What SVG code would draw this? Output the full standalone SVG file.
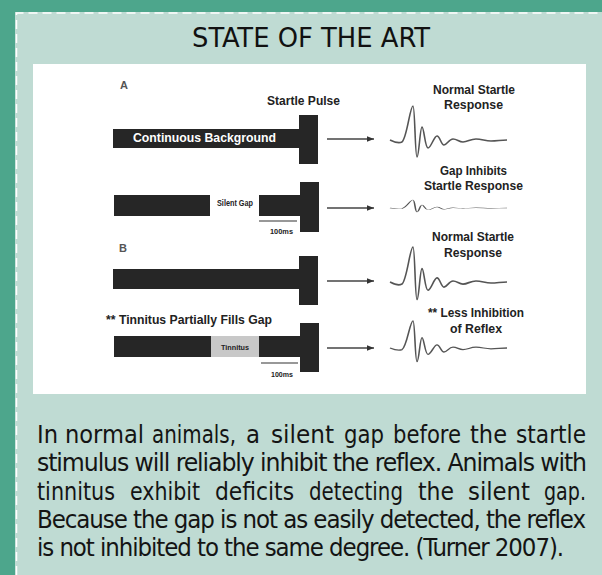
<svg xmlns="http://www.w3.org/2000/svg" width="602" height="575" viewBox="0 0 602 575">
<style>
.bar{fill:#262626}
.lbl{font-family:"Liberation Sans",Arial,sans-serif;font-weight:bold;fill:#222}
.body{font-family:"DejaVu Sans Condensed","DejaVu Sans",sans-serif;font-stretch:condensed;font-size:24px;fill:#141414}
.tight{letter-spacing:-1px}
.wave{fill:none;stroke:#555;stroke-width:1.6;vector-effect:non-scaling-stroke;stroke-linejoin:round}
.arr{stroke:#444;stroke-width:1.3;fill:none}
.scale{stroke:#333;stroke-width:1.2}
</style>
<defs>
<marker id="ah" viewBox="0 0 10 10" refX="10" refY="5" markerWidth="7" markerHeight="7" markerUnits="userSpaceOnUse" orient="auto">
<path d="M0,1 L10,5 L0,9 Z" fill="#333"/>
</marker>
<path id="wv" d="M0,0 C4,2 8,4 12,2 C17,-2 20,-34 23,-34 C25,-34 25,17 27,17 C29,17 30,-13 32,-13 C34,-13 35,8 38,8 C41,8 44,-4 47,-4 C50,-4 51,5 54,5 C57,5 59,-1 63,-1 C67,-1 69,2 73,2 C78,2 80,-1 86,-1 C92,-1 95,1 101,1 C107,1 111,0 117,0"/>
</defs>
<rect x="0" y="0" width="602" height="575" fill="#4da68c"/>
<rect x="15" y="12" width="587" height="563" fill="#bfdbd3"/>
<path d="M16.5,575 L16.5,13 L602,13" fill="none" stroke="#ffffff" stroke-width="1.5" stroke-dasharray="9,5"/>
<text x="311" y="47" text-anchor="middle" font-family="DejaVu Sans Condensed,DejaVu Sans,sans-serif" font-stretch="condensed" font-size="26" fill="#111" textLength="238" lengthAdjust="spacingAndGlyphs">STATE OF THE ART</text>
<rect x="33" y="64" width="553" height="330" fill="#ffffff"/>

<g id="label-A"><text class="lbl" x="120" y="89" font-size="11" style="fill:#555">A</text></g>
<g id="label-B"><text class="lbl" x="119" y="252" font-size="11" style="fill:#555">B</text></g>

<g id="row1-stimulus">
<rect class="bar" x="113" y="129" width="188" height="19"/>
<rect class="bar" x="299" y="115" width="19" height="49"/>
<text class="lbl" x="133" y="142" font-size="13" style="fill:#fff" textLength="143" lengthAdjust="spacingAndGlyphs">Continuous Background</text>
<text class="lbl" x="267" y="105" font-size="13" textLength="73" lengthAdjust="spacingAndGlyphs">Startle Pulse</text>
</g>
<g id="row1-response">
<text class="lbl" x="433" y="94" font-size="13" textLength="82" lengthAdjust="spacingAndGlyphs">Normal Startle</text>
<text class="lbl" x="444" y="109" font-size="13" textLength="59" lengthAdjust="spacingAndGlyphs">Response</text>
<use href="#wv" class="wave" transform="translate(390,140)"/>
</g>

<g id="row2-stimulus">
<rect class="bar" x="114" y="195" width="96" height="21"/>
<text class="lbl" x="217" y="206" font-size="8.5" textLength="36" lengthAdjust="spacingAndGlyphs">Silent Gap</text>
<rect class="bar" x="259" y="195" width="42" height="21"/>
<rect class="bar" x="300" y="182" width="19" height="50"/>
<line class="scale" x1="259" y1="221" x2="297" y2="221"/>
<text class="lbl" x="270" y="234" font-size="7.5" textLength="23" lengthAdjust="spacingAndGlyphs">100ms</text>
</g>
<g id="row2-response">
<text class="lbl" x="440" y="175" font-size="13" textLength="67" lengthAdjust="spacingAndGlyphs">Gap Inhibits</text>
<text class="lbl" x="424" y="190" font-size="13" textLength="99" lengthAdjust="spacingAndGlyphs">Startle Response</text>
<use href="#wv" class="wave" transform="translate(390,208) scale(1,0.24)"/>
</g>

<g id="row3-stimulus">
<rect class="bar" x="113" y="269" width="188" height="20"/>
<rect class="bar" x="299" y="256" width="19" height="49"/>
</g>
<g id="row3-response">
<text class="lbl" x="432" y="241" font-size="13" textLength="82" lengthAdjust="spacingAndGlyphs">Normal Startle</text>
<text class="lbl" x="444" y="257" font-size="13" textLength="58" lengthAdjust="spacingAndGlyphs">Response</text>
<use href="#wv" class="wave" transform="translate(390,282) scale(1,1.03)"/>
</g>

<g id="row4-stimulus">
<text class="lbl" x="106" y="324" font-size="13" textLength="166" lengthAdjust="spacingAndGlyphs">** Tinnitus Partially Fills Gap</text>
<rect class="bar" x="114" y="336" width="97" height="21"/>
<rect x="211" y="336" width="48" height="21" fill="#c8c8c8"/>
<text class="lbl" x="221" y="350" font-size="8" textLength="28" lengthAdjust="spacingAndGlyphs">Tinnitus</text>
<rect class="bar" x="259" y="336" width="42" height="21"/>
<rect class="bar" x="300" y="323" width="19" height="49"/>
<line class="scale" x1="261" y1="363" x2="298" y2="363"/>
<text class="lbl" x="271" y="377" font-size="7.5" textLength="22" lengthAdjust="spacingAndGlyphs">100ms</text>
</g>
<g id="row4-response">
<text class="lbl" x="428" y="317" font-size="13" textLength="96" lengthAdjust="spacingAndGlyphs">** Less Inhibition</text>
<text class="lbl" x="450" y="333" font-size="13" textLength="52" lengthAdjust="spacingAndGlyphs">of Reflex</text>
<use href="#wv" class="wave" transform="translate(390,348) scale(1,0.8)"/>
</g>

<g id="connectors">
<line class="arr" x1="327" y1="139" x2="374" y2="139" marker-end="url(#ah)"/>
<line class="arr" x1="327" y1="208" x2="374" y2="208" marker-end="url(#ah)"/>
<line class="arr" x1="327" y1="281" x2="374" y2="281" marker-end="url(#ah)"/>
<line class="arr" x1="327" y1="348" x2="374" y2="348" marker-end="url(#ah)"/>
</g>

<g id="caption">
<text class="body" x="37" y="443" textLength="21" lengthAdjust="spacingAndGlyphs">In</text>
<text class="body" x="65" y="443" textLength="79" lengthAdjust="spacingAndGlyphs">normal</text>
<text class="body" x="152" y="443" textLength="84" lengthAdjust="spacingAndGlyphs">animals,</text>
<text class="body" x="246" y="443" textLength="14" lengthAdjust="spacingAndGlyphs">a</text>
<text class="body" x="271" y="443" textLength="63" lengthAdjust="spacingAndGlyphs">silent</text>
<text class="body" x="344" y="443" textLength="40" lengthAdjust="spacingAndGlyphs">gap</text>
<text class="body" x="393" y="443" textLength="68" lengthAdjust="spacingAndGlyphs">before</text>
<text class="body" x="470" y="443" textLength="37" lengthAdjust="spacingAndGlyphs">the</text>
<text class="body" x="516" y="443" textLength="70" lengthAdjust="spacingAndGlyphs">startle</text>
<text class="body tight" x="37" y="471" textLength="549" lengthAdjust="spacingAndGlyphs">stimulus will reliably inhibit the reflex. Animals with</text>
<text class="body" x="37" y="500" textLength="78" lengthAdjust="spacingAndGlyphs">tinnitus</text>
<text class="body" x="130" y="500" textLength="70" lengthAdjust="spacingAndGlyphs">exhibit</text>
<text class="body" x="215" y="500" textLength="79" lengthAdjust="spacingAndGlyphs">deficits</text>
<text class="body" x="309" y="500" textLength="94" lengthAdjust="spacingAndGlyphs">detecting</text>
<text class="body" x="418" y="500" textLength="36" lengthAdjust="spacingAndGlyphs">the</text>
<text class="body" x="468" y="500" textLength="62" lengthAdjust="spacingAndGlyphs">silent</text>
<text class="body" x="544" y="500" textLength="42" lengthAdjust="spacingAndGlyphs">gap.</text>
<text class="body tight" x="37" y="528" textLength="548" lengthAdjust="spacingAndGlyphs">Because the gap is not as easily detected, the reflex</text>
<text class="body tight" x="37" y="556" textLength="526" lengthAdjust="spacingAndGlyphs">is not inhibited to the same degree. (Turner 2007).</text>
</g>
</svg>
